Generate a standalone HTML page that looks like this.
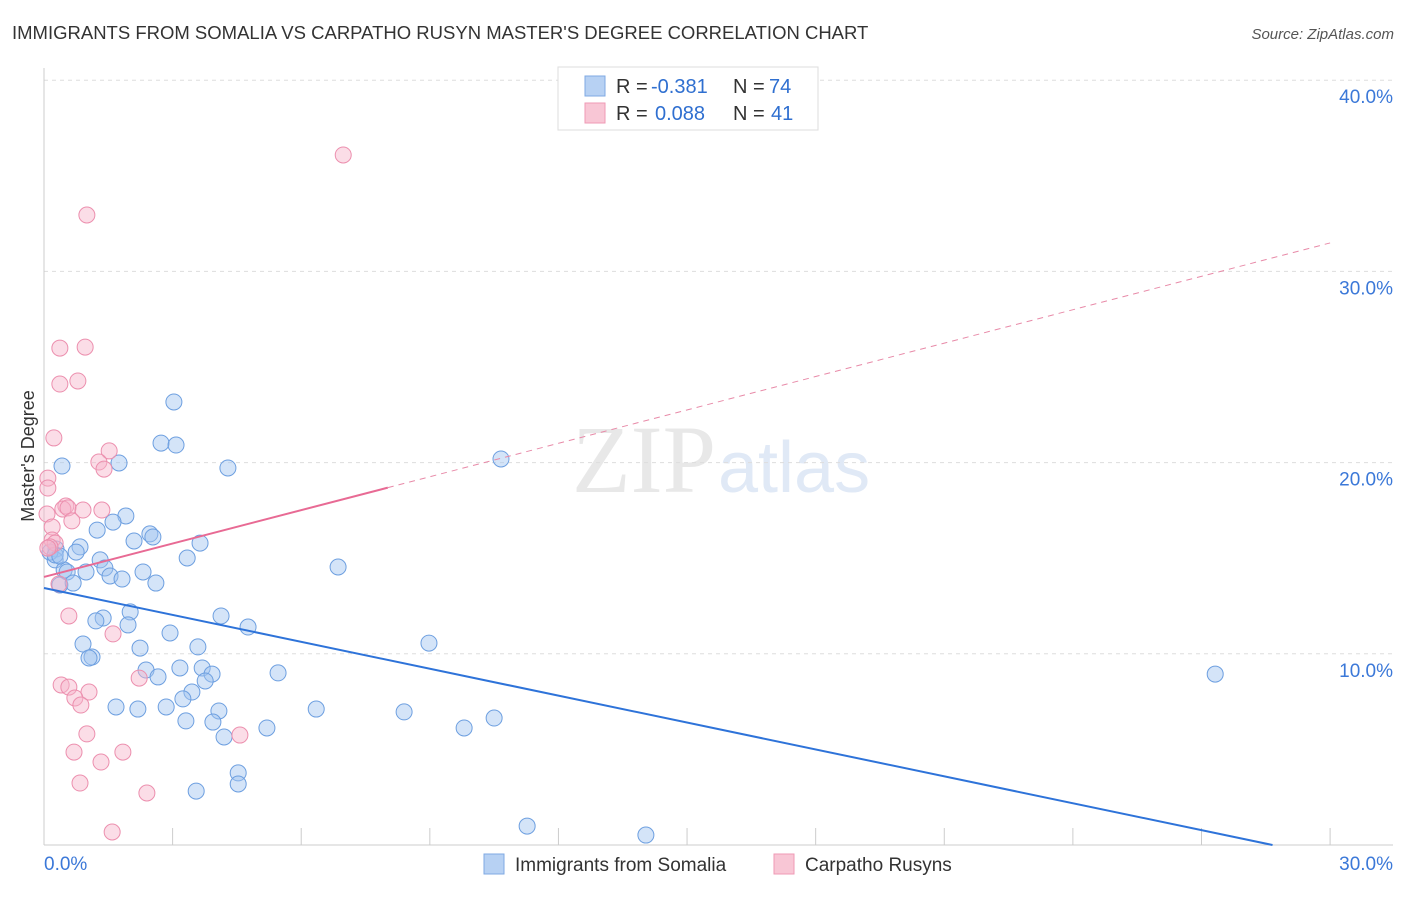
<!DOCTYPE html>
<html><head><meta charset="utf-8"><style>
body{margin:0;background:#fff;font-family:"Liberation Sans",sans-serif}
</style></head><body>
<svg id="c" width="1406" height="892" xmlns="http://www.w3.org/2000/svg">
<text x="12" y="39" font-size="18.5" fill="#333">IMMIGRANTS FROM SOMALIA VS CARPATHO RUSYN MASTER'S DEGREE CORRELATION CHART</text>
<text x="1394" y="39" font-size="15" fill="#555" font-style="italic" text-anchor="end">Source: ZipAtlas.com</text>
<text x="716" y="492" font-size="96" fill="#e8e8e8" text-anchor="end" font-family="Liberation Serif">ZIP</text>
<text x="718" y="492" font-size="72" fill="#e0e9f6">atlas</text>
<text transform="translate(34,456) rotate(-90)" font-size="18" fill="#333" text-anchor="middle">Master's Degree</text>
<g id="grid"></g><g id="marks"></g><g id="lines"></g>
<g>
<rect x="558" y="67" width="260" height="63" fill="#fff" stroke="#ddd"/>
<rect x="585" y="76" width="20" height="20" fill="#b7d1f3" stroke="#7fa9e3"/>
<rect x="585" y="103" width="20" height="20" fill="#f8c6d5" stroke="#ef9ab5"/>
<text x="616" y="93" font-size="20" fill="#333">R =</text>
<text x="651" y="93" font-size="20" fill="#2f6fd0">-0.381</text>
<text x="733" y="93" font-size="20" fill="#333">N =</text>
<text x="769" y="93" font-size="20" fill="#2f6fd0">74</text>
<text x="616" y="120" font-size="20" fill="#333">R =</text>
<text x="655" y="120" font-size="20" fill="#2f6fd0">0.088</text>
<text x="733" y="120" font-size="20" fill="#333">N =</text>
<text x="771" y="120" font-size="20" fill="#2f6fd0">41</text>
</g>
<g>
<rect x="484" y="854" width="20" height="20" fill="#b7d1f3" stroke="#7fa9e3"/>
<text x="515" y="871" font-size="19" fill="#333">Immigrants from Somalia</text>
<rect x="774" y="854" width="20" height="20" fill="#f8c6d5" stroke="#ef9ab5"/>
<text x="805" y="871" font-size="19" fill="#333">Carpatho Rusyns</text>
</g>
</svg>
<script>
const yTicks=[10,20,30,40];
const xTickLabels=["0.0%","30.0%"];
const blueX=[3.03,2.73,3.08,4.29,1.75,0.42,10.66,1.91,1.61,1.24,2.47,2.54,2.10,3.64,0.84,0.28,0.75,1.31,3.34,0.26,0.47,0.54,0.98,1.42,1.54,1.82,2.31,2.61,6.86,0.37,0.68,2.01,1.38,1.21,1.96,4.13,4.76,2.94,0.91,2.24,3.59,8.98,1.12,1.05,2.38,3.17,3.69,3.92,2.66,5.46,3.76,3.45,3.24,1.68,2.19,2.85,4.08,6.35,8.40,10.50,3.31,3.94,5.20,9.80,4.20,4.53,4.53,3.55,11.27,14.04,27.32,0.14,0.26,0.37];
const blueY=[23.17,21.02,20.92,19.72,19.98,19.82,20.19,17.21,16.89,16.47,16.27,16.11,15.90,15.79,15.59,15.48,15.32,14.91,15.01,14.91,14.38,14.28,14.28,14.49,14.07,13.91,14.28,13.70,14.54,13.60,13.70,12.19,11.87,11.72,11.51,11.98,11.40,11.09,10.51,10.30,10.36,10.56,9.83,9.78,9.15,9.26,9.26,8.94,8.79,9.00,8.58,8.00,7.64,7.22,7.11,7.22,7.01,7.11,6.96,6.64,6.49,6.43,6.12,6.12,5.65,3.77,3.19,2.82,0.99,0.52,8.94,15.32,15.17,15.11];
const pinkX=[6.98,1.00,0.37,0.96,0.37,0.79,0.23,1.52,1.28,1.40,0.09,0.09,0.51,0.44,0.56,0.91,1.35,0.07,0.65,0.19,0.19,0.26,0.14,0.35,0.58,1.61,2.22,0.40,0.58,1.05,0.72,0.86,1.00,0.70,1.84,1.33,4.57,0.84,2.40,1.59,0.09];
const pinkY=[36.09,32.95,25.99,26.04,24.11,24.27,21.29,20.61,20.03,19.66,19.19,18.67,17.73,17.57,17.63,17.52,17.52,17.31,16.95,16.63,15.95,15.79,15.59,13.65,11.98,11.04,8.73,8.37,8.26,8.00,7.69,7.32,5.81,4.86,4.86,4.34,5.75,3.24,2.72,0.68,15.53];
const blueTrend=[13.44,-0.469];
const pinkTrend=[14.02,0.5823];
const pinkSolidEnd=8.02;
const NS="http://www.w3.org/2000/svg";
const sx=v=>44+v*42.87, sy=v=>845-v*19.12;
function mk(t,a,p){const e=document.createElementNS(NS,t);for(const k in a)e.setAttribute(k,a[k]);p.appendChild(e);return e;}
const grid=document.getElementById('grid');
yTicks.forEach(t=>{
 const l=mk('line',{x1:44,x2:1393,y1:sy(t),y2:sy(t),stroke:'#ddd','stroke-dasharray':'4,4'},grid);
 
 
 const tx=mk('text',{x:1393,y:sy(t)+23,'font-size':19,fill:'#3b78d8','text-anchor':'end'},grid);
 tx.textContent=t.toFixed(1)+'%';
 
 
});
mk('line',{x1:44,x2:44,y1:68,y2:845,stroke:'#ccc'},grid);
mk('line',{x1:44,x2:1393,y1:845,y2:845,stroke:'#ccc'},grid);
for(let i=0;i<=10;i++){const x=sx(i*3);mk('line',{x1:x,x2:x,y1:828,y2:845,stroke:'#ccc'},grid);}
const t0=mk('text',{x:44,y:870,'font-size':19,fill:'#3b78d8'},grid);t0.textContent=xTickLabels[0];


const t1=mk('text',{x:1393,y:870,'font-size':19,fill:'#3b78d8','text-anchor':'end'},grid);t1.textContent=xTickLabels[1];


const marks=document.getElementById('marks');
blueX.forEach((x,i)=>{const c=mk('circle',{cx:sx(x),cy:sy(blueY[i]),r:8,fill:'rgba(160,195,240,0.45)',stroke:'#6d9fe0','stroke-width':1},marks);
 
 });
pinkX.forEach((x,i)=>{const c=mk('circle',{cx:sx(x),cy:sy(pinkY[i]),r:8,fill:'rgba(246,180,202,0.45)',stroke:'#ec8fae','stroke-width':1},marks);
 
 });
const lines=document.getElementById('lines');
const bEnd=-blueTrend[0]/blueTrend[1];
const bl=mk('line',{x1:sx(0),y1:sy(blueTrend[0]),x2:sx(bEnd),y2:sy(0),stroke:'#2e73d9','stroke-width':2},lines);


const pl=mk('line',{x1:sx(0),y1:sy(pinkTrend[0]),x2:sx(pinkSolidEnd),y2:sy(pinkTrend[0]+pinkTrend[1]*pinkSolidEnd),stroke:'#e86a94','stroke-width':2},lines);


const pd=mk('line',{x1:sx(pinkSolidEnd),y1:sy(pinkTrend[0]+pinkTrend[1]*pinkSolidEnd),x2:sx(30),y2:sy(pinkTrend[0]+pinkTrend[1]*30),stroke:'#e88aa8','stroke-width':1,'stroke-dasharray':'6,5'},lines);


</script>
</body></html>
